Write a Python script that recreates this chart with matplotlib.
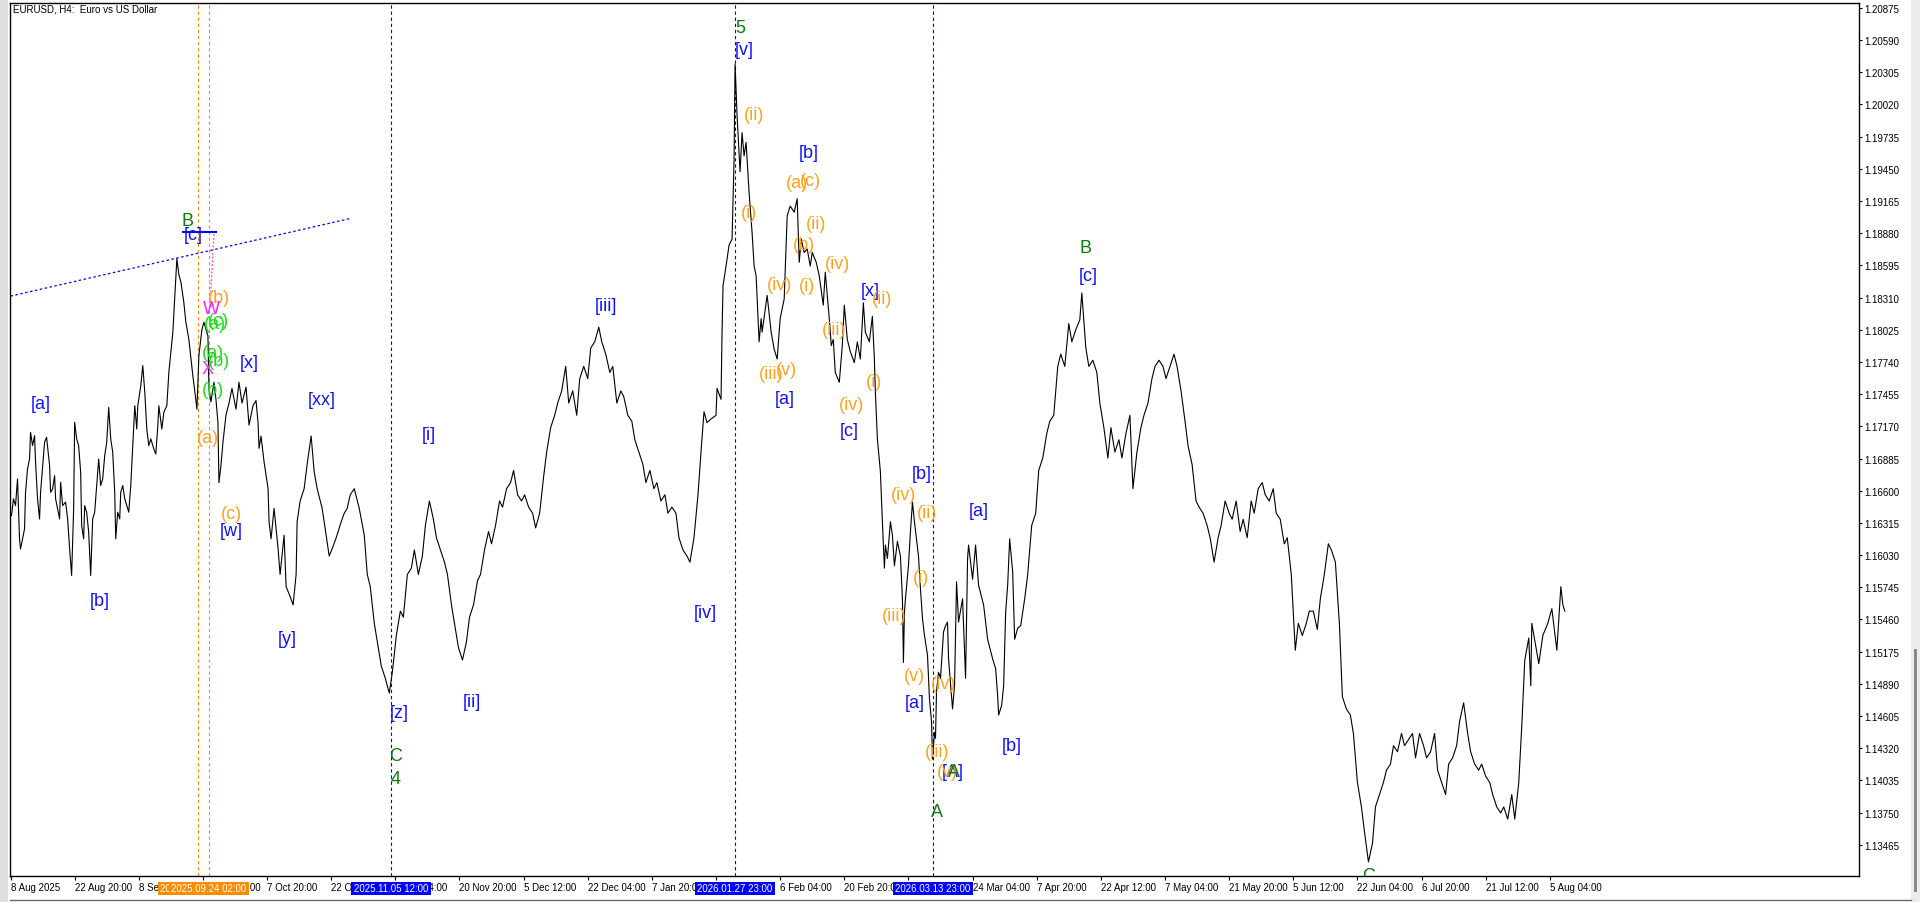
import matplotlib
matplotlib.use('Agg')
import matplotlib.pyplot as plt
import matplotlib.transforms as mtransforms
from matplotlib.patches import Rectangle
from matplotlib.lines import Line2D

plt.rcParams['font.family'] = ['Liberation Sans', 'DejaVu Sans']

#
# Price series (EURUSD H4, bar number / close)
#

bars = [
    1, 3, 5, 7, 9, 10, 12, 14, 15, 17, 19, 20, 22, 24, 25, 27, 29, 30, 34, 36,
    39, 40, 42, 44, 45, 49, 50, 52, 55, 57, 59, 61, 63, 64, 66, 68, 70, 71, 73, 74,
    76, 78, 80, 82, 84, 86, 88, 90, 92, 94, 96, 98, 100, 102, 104, 105, 107, 109, 110, 112,
    114, 116, 118, 120, 121, 124, 126, 127, 130, 132, 134, 136, 138, 140, 143, 145, 147, 148, 151, 153,
    156, 158, 162, 164, 166, 168, 170, 173, 175, 178, 182, 184, 186, 188, 191, 193, 197, 198, 200, 203,
    205, 207, 208, 210, 212, 215, 218, 221, 225, 228, 231, 235, 238, 242, 245, 247, 248, 250, 253, 257,
    258, 260, 263, 267, 269, 273, 275, 279, 282, 285, 286, 289, 293, 296, 300, 303, 306, 311, 315, 318,
    321, 325, 330, 333, 336, 339, 343, 348, 353, 356, 359, 363, 367, 370, 374, 378, 381, 385, 389, 392,
    396, 400, 403, 407, 411, 414, 418, 422, 425, 429, 433, 436, 440, 444, 447, 451, 455, 458, 462, 466,
    469, 473, 477, 480, 484, 488, 491, 495, 499, 502, 506, 510, 513, 517, 521, 524, 528, 532, 535, 539,
    543, 546, 550, 554, 557, 561, 565, 568, 572, 576, 579, 583, 587, 590, 594, 598, 601, 605, 609, 612,
    616, 620, 623, 627, 631, 634, 638, 642, 645, 649, 653, 656, 660, 664, 667, 671, 675, 678, 682, 686,
    689, 692, 695, 699, 704, 705, 709, 710, 711, 714, 717, 720, 722, 723, 724, 725, 728, 730, 732, 734,
    737, 740, 742, 744, 747, 749, 750, 755, 759, 762, 765, 768, 772, 775, 778, 782, 785, 787, 789, 792,
    795, 798, 800, 804, 807, 811, 813, 817, 819, 821, 823, 827, 830, 832, 835, 838, 842, 845, 848, 851,
    853, 857, 860, 862, 863, 865, 868, 870, 872, 873, 875, 878, 880, 882, 885, 888, 890, 891, 892, 893,
    896, 898, 900, 902, 904, 906, 908, 910, 912, 915, 917, 919, 920, 922, 923, 924, 926, 928, 931, 933,
    935, 936, 940, 942, 944, 946, 950, 953, 955, 956, 960, 963, 966, 971, 975, 980, 983, 985, 986, 989,
    991, 993, 995, 997, 1000, 1002, 1005, 1008, 1012, 1015, 1019, 1023, 1026, 1030, 1034, 1037, 1041, 1045, 1048, 1052,
    1056, 1059, 1063, 1067, 1069, 1073, 1076, 1080, 1084, 1087, 1091, 1095, 1098, 1102, 1106, 1109, 1113, 1117, 1120, 1124,
    1128, 1131, 1135, 1139, 1142, 1146, 1150, 1153, 1157, 1161, 1164, 1168, 1172, 1175, 1179, 1183, 1186, 1190, 1194, 1197,
    1201, 1205, 1208, 1212, 1216, 1219, 1223, 1227, 1230, 1234, 1238, 1241, 1245, 1249, 1252, 1256, 1260, 1263, 1267, 1271,
    1274, 1278, 1282, 1285, 1289, 1293, 1296, 1300, 1304, 1307, 1311, 1315, 1318, 1322, 1326, 1329, 1333, 1337, 1340, 1344,
    1348, 1351, 1355, 1359, 1362, 1366, 1370, 1373, 1377, 1380, 1384, 1388, 1391, 1395, 1399, 1402, 1406, 1410, 1413, 1417,
    1421, 1424, 1428, 1432, 1435, 1439, 1443, 1446, 1450, 1454, 1457, 1461, 1465, 1468, 1472, 1476, 1479, 1483, 1487, 1490,
    1494, 1498, 1501, 1505, 1508, 1511, 1515, 1517, 1518, 1525, 1529, 1534, 1538, 1543, 1547, 1549, 1551,
]

closes = [
    1.16381, 1.16528, 1.16468, 1.16704, 1.16174, 1.16085, 1.16174, 1.16262, 1.16586, 1.16793,
    1.16881, 1.17117, 1.16999, 1.17088, 1.16852, 1.16528, 1.16350, 1.16586, 1.17029, 1.17073,
    1.16823, 1.16586, 1.16616, 1.16734, 1.16528, 1.16350, 1.16675, 1.16468, 1.16499, 1.16350,
    1.16085, 1.15850, 1.16439, 1.17206, 1.17059, 1.16999, 1.16764, 1.16292, 1.16174, 1.16468,
    1.16410, 1.16233, 1.15850, 1.16350, 1.16410, 1.16646, 1.16881, 1.16646, 1.16704, 1.16911,
    1.17029, 1.17338, 1.17059, 1.16941, 1.16586, 1.16174, 1.16410, 1.16350, 1.16586, 1.16646,
    1.16528, 1.16468, 1.16410, 1.16646, 1.16823, 1.17353, 1.17146, 1.17353, 1.17530, 1.17708,
    1.17471, 1.17146, 1.16999, 1.17059, 1.16970, 1.16925, 1.17177, 1.17353, 1.17146, 1.17294,
    1.17353, 1.17648, 1.18004, 1.18329, 1.18654, 1.18514, 1.18449, 1.18264, 1.18091, 1.17939,
    1.17614, 1.17474, 1.17322, 1.17799, 1.18026, 1.18091, 1.17972, 1.17506, 1.17387, 1.17560,
    1.17409, 1.17203, 1.16672, 1.16824, 1.17029, 1.17268, 1.17376, 1.17506, 1.17322, 1.17560,
    1.17376, 1.17517, 1.17181, 1.17354, 1.17398, 1.17203, 1.16975, 1.17084, 1.16856, 1.16618,
    1.16325, 1.16174, 1.16444, 1.16087, 1.15859, 1.16206, 1.15751, 1.15664, 1.15589, 1.15859,
    1.16325, 1.16509, 1.16618, 1.16834, 1.17084, 1.16769, 1.16618, 1.16444, 1.16206, 1.16022,
    1.16087, 1.16184, 1.16325, 1.16401, 1.16444, 1.16564, 1.16618, 1.16444, 1.16206, 1.15859,
    1.15751, 1.15426, 1.15210, 1.15047, 1.14939, 1.14809, 1.14993, 1.15318, 1.15534, 1.15480,
    1.15859, 1.15914, 1.16076, 1.15859, 1.16022, 1.16293, 1.16509, 1.16347, 1.16184, 1.16076,
    1.15968, 1.15859, 1.15589, 1.15372, 1.15210, 1.15101, 1.15264, 1.15480, 1.15589, 1.15805,
    1.15859, 1.16076, 1.16239, 1.16130, 1.16293, 1.16509, 1.16455, 1.16618, 1.16672, 1.16780,
    1.16564, 1.16509, 1.16564, 1.16455, 1.16401, 1.16271, 1.16401, 1.16726, 1.16943, 1.17159,
    1.17268, 1.17376, 1.17484, 1.17701, 1.17376, 1.17484, 1.17268, 1.17593, 1.17701, 1.17593,
    1.17864, 1.17918, 1.18048, 1.17918, 1.17809, 1.17647, 1.17701, 1.17376, 1.17484, 1.17430,
    1.17268, 1.17214, 1.17051, 1.16943, 1.16834, 1.16672, 1.16780, 1.16618, 1.16672, 1.16509,
    1.16564, 1.16401, 1.16455, 1.16401, 1.16184, 1.16076, 1.16022, 1.15968, 1.16184, 1.16564,
    1.16943, 1.17300, 1.17203, 1.17235, 1.17268, 1.17506, 1.17409, 1.18004, 1.18416, 1.18589,
    1.18774, 1.18828, 1.19532, 1.20377, 1.20139, 1.19922, 1.19424, 1.19770, 1.19564, 1.19684,
    1.19239, 1.18882, 1.18589, 1.18503, 1.17918, 1.18124, 1.18004, 1.18329, 1.18004, 1.17853,
    1.17766, 1.18124, 1.18297, 1.19034, 1.19120, 1.19066, 1.19185, 1.18622, 1.18828, 1.18709,
    1.18740, 1.18589, 1.18709, 1.18622, 1.18503, 1.18243, 1.18535, 1.18124, 1.17885, 1.17939,
    1.17647, 1.17560, 1.17885, 1.18243, 1.17939, 1.17831, 1.17734, 1.17918, 1.17766, 1.18264,
    1.18004, 1.17918, 1.18145, 1.17766, 1.17474, 1.17062, 1.16769, 1.16325, 1.15914, 1.16119,
    1.16000, 1.16325, 1.16206, 1.15935, 1.16152, 1.16022, 1.15643, 1.15080, 1.15524, 1.15643,
    1.15935, 1.16239, 1.16499, 1.16325, 1.16174, 1.16022, 1.15729, 1.15470, 1.15318, 1.15145,
    1.14755, 1.14560, 1.14224, 1.14462, 1.14408, 1.14820, 1.14993, 1.14939, 1.15350, 1.15405,
    1.15437, 1.15112, 1.14668, 1.14874, 1.15794, 1.15437, 1.15643, 1.14939, 1.16000, 1.16119,
    1.15816, 1.16119, 1.15762, 1.15589, 1.15285, 1.15112, 1.15025, 1.14787, 1.14614, 1.14700,
    1.14874, 1.15524, 1.15762, 1.16174, 1.15881, 1.15285, 1.15383, 1.15405, 1.15643, 1.15859,
    1.16293, 1.16401, 1.16780, 1.16889, 1.17105, 1.17214, 1.17268, 1.17701, 1.17809, 1.17701,
    1.18080, 1.17918, 1.18026, 1.18113, 1.18351, 1.17864, 1.17701, 1.17755, 1.17647, 1.17376,
    1.17159, 1.16889, 1.17159, 1.16943, 1.17051, 1.16889, 1.17105, 1.17268, 1.16618, 1.16943,
    1.17159, 1.17268, 1.17376, 1.17593, 1.17701, 1.17755, 1.17701, 1.17593, 1.17701, 1.17809,
    1.17701, 1.17484, 1.17214, 1.16997, 1.16834, 1.16509, 1.16455, 1.16401, 1.16293, 1.16184,
    1.15968, 1.16184, 1.16293, 1.16509, 1.16401, 1.16347, 1.16509, 1.16239, 1.16347, 1.16184,
    1.16509, 1.16401, 1.16618, 1.16672, 1.16564, 1.16509, 1.16618, 1.16401, 1.16347, 1.16130,
    1.16184, 1.15859, 1.15188, 1.15426, 1.15318, 1.15426, 1.15534, 1.15534, 1.15372, 1.15643,
    1.15859, 1.16130, 1.16076, 1.15968, 1.15426, 1.14776, 1.14668, 1.14614, 1.14451, 1.14018,
    1.13801, 1.13585, 1.13314, 1.13476, 1.13801, 1.13910, 1.14018, 1.14126, 1.14180, 1.14343,
    1.14289, 1.14451, 1.14343, 1.14397, 1.14451, 1.14235, 1.14451, 1.14343, 1.14235, 1.14289,
    1.14451, 1.14126, 1.14018, 1.13910, 1.14180, 1.14235, 1.14343, 1.14560, 1.14722, 1.14451,
    1.14289, 1.14180, 1.14126, 1.14180, 1.14072, 1.14018, 1.13910, 1.13801, 1.13747, 1.13801,
    1.13693, 1.13910, 1.13693, 1.14018, 1.14516, 1.15101, 1.15296, 1.14874, 1.15426, 1.15069,
    1.15318, 1.15426, 1.15556, 1.15188, 1.15751, 1.15589, 1.15534,
]

#
# Axis scales
#

price_ticks = [
    1.20875, 1.20590, 1.20305, 1.20020, 1.19735, 1.19450, 1.19165, 1.18880, 1.18595,
    1.18310, 1.18025, 1.17740, 1.17455, 1.17170, 1.16885, 1.16600, 1.16315, 1.16030,
    1.15745, 1.15460, 1.15175, 1.14890, 1.14605, 1.14320, 1.14035, 1.13750, 1.13465,
]

time_ticks = [0, 64, 128, 192, 256, 320, 384, 448, 512, 576, 640, 704, 768,
              832, 896, 960, 1024, 1088, 1152, 1216, 1280, 1344, 1408, 1472, 1536]
time_labels = ['8 Aug 2025', '22 Aug 20:00', '8 Sep 12:00', '23 Sep 04:00', '7 Oct 20:00',
               '22 Oct 12:00', '6 Nov 04:00', '20 Nov 20:00', '5 Dec 12:00', '22 Dec 04:00',
               '7 Jan 20:00', '22 Jan 12:00', '6 Feb 04:00', '20 Feb 20:00', '9 Mar 12:00',
               '24 Mar 04:00', '7 Apr 20:00', '22 Apr 12:00', '7 May 04:00', '21 May 20:00',
               '5 Jun 12:00', '22 Jun 04:00', '6 Jul 20:00', '21 Jul 12:00', '5 Aug 04:00']

# vertical time lines and their labels on the time scale
vline_bars = [186.7, 197.7, 380, 723, 920.5]
vline_colors = ['#ff8c00', '#ff8c00', '#0000ff', '#0000ff', '#0000ff']
vline_texts = ['2025.09.22 08:00', '2025.09.24 02:00', '2025.11.05 12:00',
               '2026.01.27 23:00', '2026.03.13 23:00']

#
# Wave labels
#

blue_labels = ['[a]', '[b]', '[c]', '[x]', '[xx]', '[w]', '[y]', '[z]', '[i]', '[ii]',
               '[iii]', '[iv]', '[v]', '[b]', '[a]', '[c]', '[x]', '[b]', '[a]', '[a]',
               '[b]', '[c]', '[A]']
blue_bars = [30, 89, 182, 238, 311, 220, 276, 388, 417, 460,
             594, 693, 732, 797, 773, 837, 858, 909, 902, 966,
             999, 1075, 940]
blue_prices = [1.17376, 1.15632, 1.18871, 1.17737, 1.17412, 1.16249, 1.15296, 1.14635, 1.17094, 1.14733,
               1.18243, 1.15524, 1.20509, 1.19597, 1.17418, 1.17132, 1.18371, 1.16749, 1.14729, 1.16424,
               1.14345, 1.18503, 1.14110]

orange_labels = ['(b)', '(a)', '(c)', '(ii)', '(i)', '(iv)', '(iii)', '(v)', '(a)', '(c)',
                 '(ii)', '(b)', '(iv)', '(i)', '(iii)', '(ii)', '(i)', '(iv)', '(iv)', '(ii)',
                 '(i)', '(iii)', '(v)', '(iv)', '(iii)', '(v)']
orange_bars = [208, 197, 220, 742, 737, 767, 759, 774, 785, 798,
               804, 792, 825, 795, 822, 870, 862, 839, 891, 915,
               909, 882, 902, 931, 925, 935]
orange_prices = [1.18312, 1.17073, 1.16395, 1.19934, 1.19064, 1.18430, 1.17634, 1.17677, 1.19329, 1.19343,
                 1.18970, 1.18778, 1.18612, 1.18420, 1.18023, 1.18306, 1.17569, 1.17359, 1.16564, 1.16403,
                 1.15835, 1.15496, 1.14965, 1.14896, 1.14295, 1.14110]

green_labels = ['B', '5', 'C', '4', 'A', 'A', 'B', 'C']
green_bars = [177, 728, 384, 384, 924, 941, 1073, 1355]
green_prices = [1.18990, 1.20701, 1.14256, 1.14050, 1.13756, 1.14110, 1.18752, 1.13195]

magenta_labels = ['W', 'X']
magenta_bars = [200, 197]
magenta_prices = [1.18210, 1.17679]

lime_labels = ['(c)', '(a)', '(a)', '(b)', '(b)']
lime_bars = [207, 204, 202, 208, 202]
lime_prices = [1.18105, 1.18080, 1.17827, 1.17751, 1.17500]

# drawn objects: channel line, marker line, connector
trend_bars = [0, 340]
trend_prices = [1.18323, 1.19012]
mark_bars = [172, 205]
mark_prices = [1.18887, 1.18887]
link_bars = [203, 199]
link_prices = [1.18871, 1.18210]

#
# Graph
#

W, H = 1920, 903
fig = plt.figure(figsize=(W / 100, H / 100), dpi=100, facecolor='white')
ax = fig.add_axes([10 / W, 26 / H, 1849 / W, 873 / H])
ax.set_facecolor('white')

ax.set_xlim(-0.5, 1844.5)
ax.set_ylim(1.13189, 1.20918)

for b, c in zip(vline_bars, vline_colors):
    ax.axvline(b, color=c, lw=0.8, ls=(0, (3, 2.5)), zorder=2)

ax.plot(trend_bars, trend_prices, color='#0000ff', lw=0.9, ls=(0, (2, 2)), zorder=2)
ax.plot(mark_bars, mark_prices, color='#0000ff', lw=1.5, zorder=2)
ax.plot(link_bars, link_prices, color='#ff33ff', lw=0.9, ls=(0, (1.5, 1.5)), zorder=2)

ax.plot(bars, closes, color='black', lw=0.8, zorder=3)


def put_labels(texts, xs, ys, color, z=5):
    for t, x, y in zip(texts, xs, ys):
        ax.text(x, y, t, color=color, fontsize=13, ha='center', va='center',
                zorder=z, clip_on=True)


put_labels(blue_labels, blue_bars, blue_prices, '#1010ff')
put_labels(green_labels, green_bars, green_prices, '#0d7a0d', z=6)
put_labels(orange_labels, orange_bars, orange_prices, '#ffa21a')
put_labels(magenta_labels, magenta_bars, magenta_prices, '#ff22ff')
put_labels(lime_labels, lime_bars, lime_prices, '#18e018', z=6)

# axes look (MT5 style)
for s in ax.spines.values():
    s.set_color('black')
    s.set_linewidth(1.0)

ax.yaxis.tick_right()
ax.set_yticks(price_ticks)
ax.set_yticklabels([f'{p:.5f}' for p in price_ticks])
ax.tick_params(axis='y', length=2.5, width=0.8, pad=1, labelsize=7, colors='black')

ax.set_xticks(time_ticks)
ax.set_xticklabels(time_labels, ha='left')
ax.tick_params(axis='x', length=3, width=0.8, pad=1.5, labelsize=7, colors='black')

# time boxes on the time scale, later boxes cover earlier ones
blend = mtransforms.blended_transform_factory(ax.transData, ax.transAxes)
for i, (b, c, t) in enumerate(zip(vline_bars, vline_colors, vline_texts)):
    ax.add_patch(Rectangle((b - 40, -0.0218), 80, 0.0150, transform=blend,
                           facecolor=c, edgecolor='none', clip_on=False, zorder=6 + 2 * i))
    ax.text(b, -0.0143, t, transform=blend, ha='center', va='center', color='white',
            fontsize=7, zorder=7 + 2 * i, clip_on=False)

# title
fig.text(13 / W, 1 - 10 / H, 'EURUSD, H4:  Euro vs US Dollar', fontsize=7,
         ha='left', va='center', color='black')

# window frame pieces
fig.patches.append(Rectangle((0, 0), 8 / W, 1, transform=fig.transFigure,
                             facecolor='#dedede', edgecolor='none', zorder=0))
fig.patches.append(Rectangle((1911 / W, 0), 9 / W, 1, transform=fig.transFigure,
                             facecolor='#ececec', edgecolor='none', zorder=0))
fig.patches.append(Rectangle((1914 / W, 10 / H), 3 / W, 243 / H, transform=fig.transFigure,
                             facecolor='#8a8a8a', edgecolor='none', zorder=0))
fig.lines.append(Line2D([10 / W, 1911 / W], [2 / H, 2 / H], transform=fig.transFigure,
                        color='#6a6a6a', lw=1))

fig.savefig('out.png', dpi=100, facecolor='white')
